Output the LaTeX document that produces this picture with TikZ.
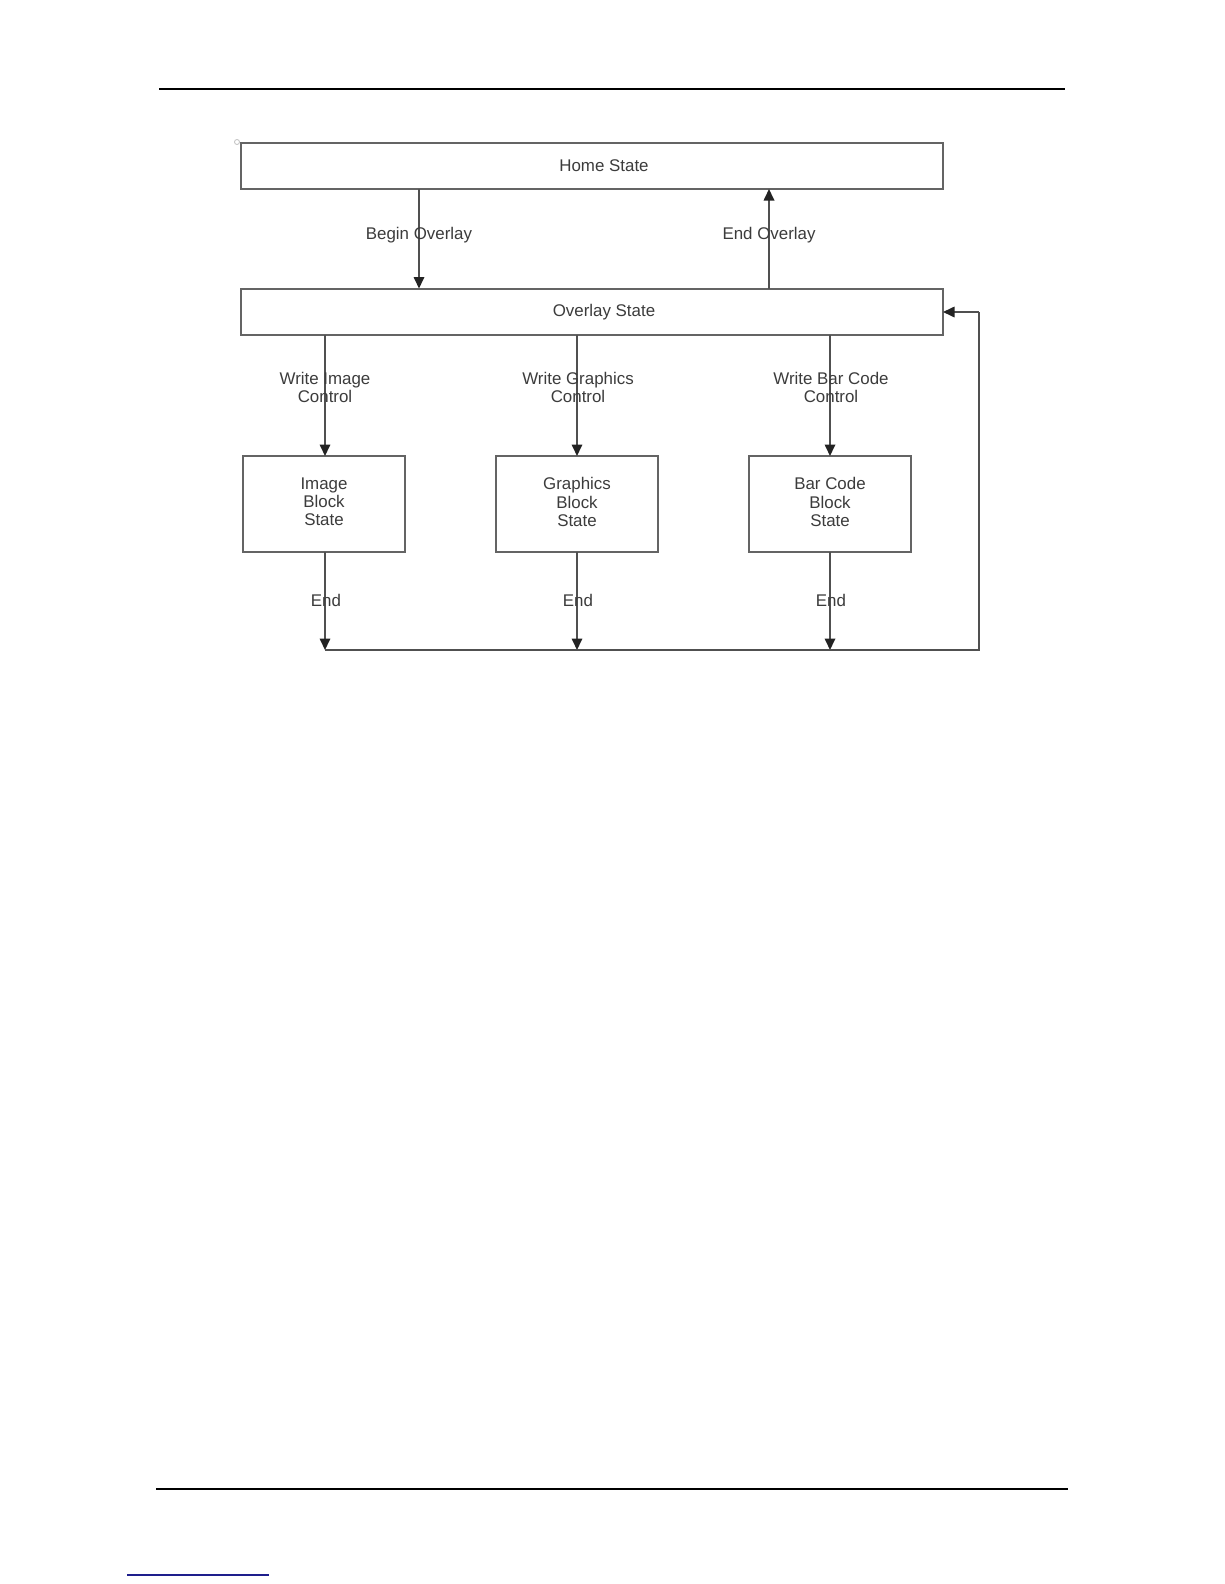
\documentclass[tikz,border=0pt]{standalone}
\usepackage{fontspec}
\setmainfont{Liberation Sans}
\usetikzlibrary{arrows.meta}
\definecolor{linegray}{RGB}{80,80,80}
\definecolor{boxgray}{RGB}{100,100,100}
\definecolor{textgray}{RGB}{60,60,60}
\definecolor{tipgray}{RGB}{35,35,35}
\definecolor{linkblue}{RGB}{30,30,140}
\begin{document}
\begin{tikzpicture}[x=1pt,y=-1pt,
  every node/.style={font=\fontsize{16.9}{18.3}\selectfont, text=textgray},
  bar/.style={draw=boxgray, line width=2pt, minimum width=702.5pt, minimum height=46pt, inner sep=0pt, outer sep=0pt},
  blockbox/.style={draw=boxgray, line width=2pt, minimum width=162pt, minimum height=96pt, inner sep=0pt, outer sep=0pt, align=center},
  txt/.style={inner sep=0pt, outer sep=0pt, align=center},
  conn/.style={draw=linegray, line width=1.7pt},
  arr/.style={conn, -{Triangle[width=10.5pt,length=11.5pt,color=tipgray]}},
  rule/.style={draw=black, line width=2.2pt}
]
\useasboundingbox (0,0) rectangle (1224,1584);
\fill[white] (0,0) rectangle (1224,1584);

% page rules
\coordinate (rtl) at (159,89);
\coordinate (rtr) at (1065,89);
\coordinate (rbl) at (156,1489);
\coordinate (rbr) at (1068,1489);
\draw[rule] (rtl) -- (rtr);
\draw[rule] (rbl) -- (rbr);
\coordinate (lkl) at (127,1575);
\coordinate (lkr) at (269,1575);
\draw[draw=linkblue, line width=1.5pt] (lkl) -- (lkr);

% small artefact circle
\draw[draw=gray!50, line width=0.8pt] (237,142) circle (2.5pt);

% main boxes
\node[bar, label={[txt, xshift=12.25pt]center:Home State}] (home) at (591.75,166) {};
\node[bar, minimum height=46.5pt, label={[txt, xshift=12.25pt]center:Overlay State}] (ovl) at (591.75,311.75) {};

\node[blockbox] (img) at (324,504) {};
\node[blockbox] (gfx) at (577,504) {};
\node[blockbox] (bar) at (830,504) {};

\node[txt, anchor=north] (imgT) at (324,477.5) {Image\\Block\\State};
\node[txt, anchor=north] (gfxT) at (577,477.5) {Graphics\\Block\\State};
\node[txt, anchor=north] (barT) at (830,477.5) {Bar Code\\Block\\State};

% helper coordinates
\coordinate (bx) at (419,0);
\coordinate (ex) at (769,0);
\coordinate (ix) at (325,0);
\coordinate (gx) at (577,0);
\coordinate (cx) at (830,0);
\coordinate (bl) at (325,650);
\coordinate (br) at (979,650);
\coordinate (tr) at (979,312);

% home <-> overlay
\draw[arr] (home.south -| bx) -- (ovl.north -| bx);
\draw[arr] (ovl.north -| ex) -- (home.south -| ex);
\node[txt, anchor=base] (lblBegin) at (419,239) {Begin Overlay};
\node[txt, anchor=base] (lblEnd) at (769,239) {End Overlay};

% overlay -> blocks
\draw[arr] (ovl.south -| ix) -- (img.north -| ix);
\draw[arr] (ovl.south -| gx) -- (gfx.north -| gx);
\draw[arr] (ovl.south -| cx) -- (bar.north -| cx);
\node[txt, anchor=north] (lblWI) at (325,372) {Write Image\\Control};
\node[txt, anchor=north] (lblWG) at (578,372) {Write Graphics\\Control};
\node[txt, anchor=north] (lblWB) at (831,372) {Write Bar Code\\Control};

% blocks -> bottom line
\draw[arr] (img.south -| ix) -- (bl);
\draw[arr] (gfx.south -| gx) -- (bl -| gx);
\draw[arr] (bar.south -| cx) -- (bl -| cx);
\node[txt, anchor=base] (lblE1) at (326,606) {End};
\node[txt, anchor=base] (lblE2) at (578,606) {End};
\node[txt, anchor=base] (lblE3) at (831,606) {End};

% return path
\draw[conn] (bl) -- (br) -- (tr);
\draw[arr] (tr) -- (ovl.east |- tr);
\end{tikzpicture}
\end{document}
